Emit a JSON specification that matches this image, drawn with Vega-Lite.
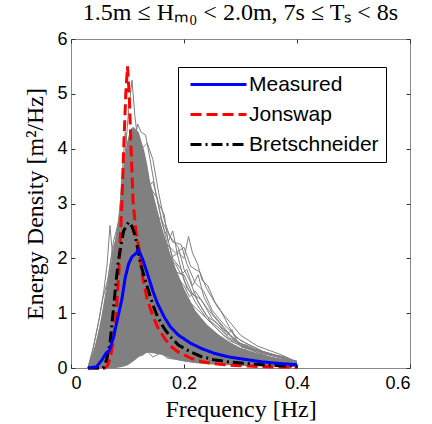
{
  "$schema": "https://vega.github.io/schema/vega-lite/v6.json",
  "width": 339,
  "height": 329,
  "autosize": {"type": "none"},
  "padding": {"left": 71, "top": 39, "right": 22, "bottom": 56},
  "background": "white",
  "title": {"text": "1.5m ≤ Hₘ₀ < 2.0m, 7s ≤ Tₛ < 8s", "font": "Liberation Serif", "fontSize": 24, "fontWeight": "normal", "color": "black", "anchor": "middle", "offset": 5},
  "config": {
    "view": {"stroke": "#888888", "strokeWidth": 1},
    "axis": {"domain": false, "grid": false, "tickColor": "#333333", "tickSize": -4, "labelFont": "Liberation Sans", "labelFontSize": 18, "labelColor": "black", "titleFont": "Liberation Serif", "titleFontSize": 24, "titleFontWeight": "normal", "titleColor": "black"}
  },
  "datasets": {
    "band": [
      {"f": 0.03, "lo": 0, "hi": 0},
      {"f": 0.04, "lo": 0, "hi": 0.3},
      {"f": 0.05, "lo": 0, "hi": 0.75},
      {"f": 0.06, "lo": 0, "hi": 1.25},
      {"f": 0.07, "lo": 0, "hi": 1.85},
      {"f": 0.08, "lo": 0, "hi": 2.45},
      {"f": 0.085, "lo": 0.01, "hi": 2.85},
      {"f": 0.09, "lo": 0.02, "hi": 3.35},
      {"f": 0.095, "lo": 0.03, "hi": 3.85},
      {"f": 0.1, "lo": 0.05, "hi": 4.15},
      {"f": 0.105, "lo": 0.08, "hi": 4.35},
      {"f": 0.11, "lo": 0.12, "hi": 4.4},
      {"f": 0.12, "lo": 0.2, "hi": 4.3},
      {"f": 0.13, "lo": 0.26, "hi": 3.95},
      {"f": 0.135, "lo": 0.28, "hi": 3.7},
      {"f": 0.14, "lo": 0.28, "hi": 3.4},
      {"f": 0.15, "lo": 0.26, "hi": 3.0},
      {"f": 0.16, "lo": 0.24, "hi": 2.6},
      {"f": 0.17, "lo": 0.2, "hi": 2.25},
      {"f": 0.18, "lo": 0.17, "hi": 1.95},
      {"f": 0.19, "lo": 0.14, "hi": 1.7},
      {"f": 0.2, "lo": 0.12, "hi": 1.45},
      {"f": 0.22, "lo": 0.09, "hi": 1.05},
      {"f": 0.24, "lo": 0.07, "hi": 0.8},
      {"f": 0.26, "lo": 0.06, "hi": 0.62},
      {"f": 0.28, "lo": 0.05, "hi": 0.48},
      {"f": 0.3, "lo": 0.04, "hi": 0.37},
      {"f": 0.33, "lo": 0.03, "hi": 0.27},
      {"f": 0.36, "lo": 0.03, "hi": 0.19},
      {"f": 0.4, "lo": 0.02, "hi": 0.1}
    ],
    "spectra": [
      {"id": 1, "f": 0.03, "E": 0}, {"id": 1, "f": 0.05, "E": 0.3}, {"id": 1, "f": 0.07, "E": 1.2}, {"id": 1, "f": 0.085, "E": 2.5}, {"id": 1, "f": 0.095, "E": 3.8}, {"id": 1, "f": 0.102, "E": 4.7}, {"id": 1, "f": 0.108, "E": 5.25}, {"id": 1, "f": 0.113, "E": 4.6}, {"id": 1, "f": 0.12, "E": 4.0}, {"id": 1, "f": 0.13, "E": 3.3}, {"id": 1, "f": 0.14, "E": 2.6}, {"id": 1, "f": 0.16, "E": 1.7}, {"id": 1, "f": 0.18, "E": 1.1}, {"id": 1, "f": 0.2, "E": 0.7}, {"id": 1, "f": 0.25, "E": 0.35}, {"id": 1, "f": 0.3, "E": 0.2}, {"id": 1, "f": 0.35, "E": 0.12}, {"id": 1, "f": 0.4, "E": 0.07},
      {"id": 2, "f": 0.03, "E": 0}, {"id": 2, "f": 0.06, "E": 0.4}, {"id": 2, "f": 0.08, "E": 1.5}, {"id": 2, "f": 0.095, "E": 2.8}, {"id": 2, "f": 0.105, "E": 3.7}, {"id": 2, "f": 0.112, "E": 4.1}, {"id": 2, "f": 0.118, "E": 4.45}, {"id": 2, "f": 0.124, "E": 4.3}, {"id": 2, "f": 0.132, "E": 4.25}, {"id": 2, "f": 0.14, "E": 3.8}, {"id": 2, "f": 0.15, "E": 3.2}, {"id": 2, "f": 0.165, "E": 2.5}, {"id": 2, "f": 0.18, "E": 1.8}, {"id": 2, "f": 0.2, "E": 1.2}, {"id": 2, "f": 0.23, "E": 0.7}, {"id": 2, "f": 0.27, "E": 0.4}, {"id": 2, "f": 0.32, "E": 0.22}, {"id": 2, "f": 0.4, "E": 0.1},
      {"id": 3, "f": 0.03, "E": 0}, {"id": 3, "f": 0.06, "E": 0.3}, {"id": 3, "f": 0.08, "E": 1.2}, {"id": 3, "f": 0.1, "E": 2.5}, {"id": 3, "f": 0.115, "E": 3.6}, {"id": 3, "f": 0.125, "E": 4.0}, {"id": 3, "f": 0.135, "E": 4.1}, {"id": 3, "f": 0.145, "E": 3.8}, {"id": 3, "f": 0.155, "E": 3.2}, {"id": 3, "f": 0.165, "E": 2.7}, {"id": 3, "f": 0.175, "E": 2.4}, {"id": 3, "f": 0.19, "E": 2.2}, {"id": 3, "f": 0.2, "E": 1.8}, {"id": 3, "f": 0.21, "E": 1.6}, {"id": 3, "f": 0.225, "E": 1.2}, {"id": 3, "f": 0.25, "E": 0.8}, {"id": 3, "f": 0.28, "E": 0.5}, {"id": 3, "f": 0.33, "E": 0.28}, {"id": 3, "f": 0.4, "E": 0.12},
      {"id": 4, "f": 0.03, "E": 0}, {"id": 4, "f": 0.06, "E": 0.3}, {"id": 4, "f": 0.08, "E": 1.0}, {"id": 4, "f": 0.1, "E": 1.8}, {"id": 4, "f": 0.12, "E": 2.3}, {"id": 4, "f": 0.14, "E": 2.5}, {"id": 4, "f": 0.16, "E": 2.3}, {"id": 4, "f": 0.175, "E": 2.0}, {"id": 4, "f": 0.19, "E": 2.1}, {"id": 4, "f": 0.2, "E": 2.0}, {"id": 4, "f": 0.208, "E": 2.4}, {"id": 4, "f": 0.215, "E": 2.1}, {"id": 4, "f": 0.224, "E": 1.9}, {"id": 4, "f": 0.232, "E": 1.6}, {"id": 4, "f": 0.242, "E": 1.5}, {"id": 4, "f": 0.255, "E": 1.2}, {"id": 4, "f": 0.265, "E": 1.05}, {"id": 4, "f": 0.28, "E": 0.75}, {"id": 4, "f": 0.29, "E": 0.57}, {"id": 4, "f": 0.31, "E": 0.45}, {"id": 4, "f": 0.34, "E": 0.3}, {"id": 4, "f": 0.38, "E": 0.18}, {"id": 4, "f": 0.4, "E": 0.08},
      {"id": 5, "f": 0.03, "E": 0}, {"id": 5, "f": 0.06, "E": 0.2}, {"id": 5, "f": 0.09, "E": 1.0}, {"id": 5, "f": 0.11, "E": 1.9}, {"id": 5, "f": 0.13, "E": 2.4}, {"id": 5, "f": 0.15, "E": 2.3}, {"id": 5, "f": 0.17, "E": 2.0}, {"id": 5, "f": 0.185, "E": 1.9}, {"id": 5, "f": 0.195, "E": 1.7}, {"id": 5, "f": 0.205, "E": 1.8}, {"id": 5, "f": 0.215, "E": 1.5}, {"id": 5, "f": 0.225, "E": 1.7}, {"id": 5, "f": 0.235, "E": 1.3}, {"id": 5, "f": 0.25, "E": 1.0}, {"id": 5, "f": 0.27, "E": 0.75}, {"id": 5, "f": 0.29, "E": 0.5}, {"id": 5, "f": 0.32, "E": 0.35}, {"id": 5, "f": 0.36, "E": 0.22}, {"id": 5, "f": 0.4, "E": 0.1},
      {"id": 6, "f": 0.03, "E": 0}, {"id": 6, "f": 0.04, "E": 0.4}, {"id": 6, "f": 0.05, "E": 0.9}, {"id": 6, "f": 0.058, "E": 1.4}, {"id": 6, "f": 0.064, "E": 1.9}, {"id": 6, "f": 0.069, "E": 2.6}, {"id": 6, "f": 0.074, "E": 2.0}, {"id": 6, "f": 0.08, "E": 2.4}, {"id": 6, "f": 0.09, "E": 2.8}, {"id": 6, "f": 0.1, "E": 2.7}, {"id": 6, "f": 0.11, "E": 2.4}, {"id": 6, "f": 0.125, "E": 2.0}, {"id": 6, "f": 0.14, "E": 1.5}, {"id": 6, "f": 0.16, "E": 1.0}, {"id": 6, "f": 0.19, "E": 0.6}, {"id": 6, "f": 0.23, "E": 0.35}, {"id": 6, "f": 0.3, "E": 0.15}, {"id": 6, "f": 0.4, "E": 0.06},
      {"id": 7, "f": 0.03, "E": 0}, {"id": 7, "f": 0.038, "E": 0.3}, {"id": 7, "f": 0.048, "E": 0.8}, {"id": 7, "f": 0.057, "E": 1.3}, {"id": 7, "f": 0.065, "E": 1.6}, {"id": 7, "f": 0.075, "E": 2.3}, {"id": 7, "f": 0.085, "E": 2.7}, {"id": 7, "f": 0.091, "E": 3.6}, {"id": 7, "f": 0.096, "E": 4.3}, {"id": 7, "f": 0.1, "E": 4.0}, {"id": 7, "f": 0.107, "E": 3.5}, {"id": 7, "f": 0.115, "E": 2.8}, {"id": 7, "f": 0.13, "E": 2.0}, {"id": 7, "f": 0.15, "E": 1.3}, {"id": 7, "f": 0.18, "E": 0.7}, {"id": 7, "f": 0.22, "E": 0.4}, {"id": 7, "f": 0.3, "E": 0.15}, {"id": 7, "f": 0.4, "E": 0.05},
      {"id": 8, "f": 0.03, "E": 0}, {"id": 8, "f": 0.06, "E": 0.05}, {"id": 8, "f": 0.08, "E": 0.15}, {"id": 8, "f": 0.1, "E": 0.25}, {"id": 8, "f": 0.115, "E": 0.3}, {"id": 8, "f": 0.125, "E": 0.22}, {"id": 8, "f": 0.135, "E": 0.3}, {"id": 8, "f": 0.145, "E": 0.2}, {"id": 8, "f": 0.16, "E": 0.28}, {"id": 8, "f": 0.17, "E": 0.18}, {"id": 8, "f": 0.19, "E": 0.15}, {"id": 8, "f": 0.22, "E": 0.1}, {"id": 8, "f": 0.26, "E": 0.08}, {"id": 8, "f": 0.3, "E": 0.05}, {"id": 8, "f": 0.4, "E": 0.03},
      {"id": 9, "f": 0.03, "E": 0}, {"id": 9, "f": 0.07, "E": 0.08}, {"id": 9, "f": 0.09, "E": 0.2}, {"id": 9, "f": 0.11, "E": 0.3}, {"id": 9, "f": 0.12, "E": 0.4}, {"id": 9, "f": 0.13, "E": 0.35}, {"id": 9, "f": 0.14, "E": 0.42}, {"id": 9, "f": 0.155, "E": 0.3}, {"id": 9, "f": 0.165, "E": 0.36}, {"id": 9, "f": 0.18, "E": 0.25}, {"id": 9, "f": 0.2, "E": 0.2}, {"id": 9, "f": 0.23, "E": 0.15}, {"id": 9, "f": 0.26, "E": 0.12}, {"id": 9, "f": 0.3, "E": 0.08}, {"id": 9, "f": 0.35, "E": 0.05}, {"id": 9, "f": 0.4, "E": 0.04},
      {"id": 10, "f": 0.03, "E": 0}, {"id": 10, "f": 0.07, "E": 0.4}, {"id": 10, "f": 0.1, "E": 1.2}, {"id": 10, "f": 0.13, "E": 1.8}, {"id": 10, "f": 0.16, "E": 1.6}, {"id": 10, "f": 0.19, "E": 1.4}, {"id": 10, "f": 0.22, "E": 1.1}, {"id": 10, "f": 0.24, "E": 0.9}, {"id": 10, "f": 0.26, "E": 0.75}, {"id": 10, "f": 0.275, "E": 0.6}, {"id": 10, "f": 0.285, "E": 0.7}, {"id": 10, "f": 0.295, "E": 0.45}, {"id": 10, "f": 0.31, "E": 0.42}, {"id": 10, "f": 0.325, "E": 0.35}, {"id": 10, "f": 0.34, "E": 0.3}, {"id": 10, "f": 0.36, "E": 0.24}, {"id": 10, "f": 0.38, "E": 0.2}, {"id": 10, "f": 0.39, "E": 0.15}, {"id": 10, "f": 0.4, "E": 0.07},
      {"id": 11, "f": 0.03, "E": 0}, {"id": 11, "f": 0.07, "E": 0.5}, {"id": 11, "f": 0.09, "E": 1.5}, {"id": 11, "f": 0.11, "E": 2.6}, {"id": 11, "f": 0.13, "E": 3.2}, {"id": 11, "f": 0.145, "E": 3.4}, {"id": 11, "f": 0.155, "E": 3.0}, {"id": 11, "f": 0.165, "E": 2.8}, {"id": 11, "f": 0.172, "E": 2.3}, {"id": 11, "f": 0.18, "E": 2.5}, {"id": 11, "f": 0.19, "E": 2.0}, {"id": 11, "f": 0.2, "E": 1.6}, {"id": 11, "f": 0.22, "E": 1.2}, {"id": 11, "f": 0.24, "E": 0.9}, {"id": 11, "f": 0.27, "E": 0.6}, {"id": 11, "f": 0.3, "E": 0.4}, {"id": 11, "f": 0.35, "E": 0.2}, {"id": 11, "f": 0.4, "E": 0.1},
      {"id": 12, "f": 0.03, "E": 0}, {"id": 12, "f": 0.07, "E": 0.2}, {"id": 12, "f": 0.09, "E": 0.7}, {"id": 12, "f": 0.11, "E": 1.4}, {"id": 12, "f": 0.13, "E": 1.9}, {"id": 12, "f": 0.15, "E": 2.1}, {"id": 12, "f": 0.17, "E": 2.0}, {"id": 12, "f": 0.185, "E": 1.7}, {"id": 12, "f": 0.2, "E": 1.5}, {"id": 12, "f": 0.21, "E": 1.3}, {"id": 12, "f": 0.22, "E": 1.4}, {"id": 12, "f": 0.24, "E": 1.1}, {"id": 12, "f": 0.26, "E": 0.85}, {"id": 12, "f": 0.28, "E": 0.6}, {"id": 12, "f": 0.3, "E": 0.42}, {"id": 12, "f": 0.33, "E": 0.3}, {"id": 12, "f": 0.37, "E": 0.2}, {"id": 12, "f": 0.4, "E": 0.09},
      {"id": 13, "f": 0.03, "E": 0}, {"id": 13, "f": 0.06, "E": 0.5}, {"id": 13, "f": 0.08, "E": 1.6}, {"id": 13, "f": 0.1, "E": 2.9}, {"id": 13, "f": 0.115, "E": 3.4}, {"id": 13, "f": 0.13, "E": 3.0}, {"id": 13, "f": 0.145, "E": 2.9}, {"id": 13, "f": 0.16, "E": 2.4}, {"id": 13, "f": 0.175, "E": 2.2}, {"id": 13, "f": 0.185, "E": 1.75}, {"id": 13, "f": 0.2, "E": 1.7}, {"id": 13, "f": 0.215, "E": 1.35}, {"id": 13, "f": 0.23, "E": 1.25}, {"id": 13, "f": 0.25, "E": 0.9}, {"id": 13, "f": 0.27, "E": 0.7}, {"id": 13, "f": 0.3, "E": 0.45}, {"id": 13, "f": 0.34, "E": 0.28}, {"id": 13, "f": 0.4, "E": 0.12},
      {"id": 14, "f": 0.03, "E": 0}, {"id": 14, "f": 0.07, "E": 0.6}, {"id": 14, "f": 0.09, "E": 1.7}, {"id": 14, "f": 0.11, "E": 2.9}, {"id": 14, "f": 0.125, "E": 3.6}, {"id": 14, "f": 0.14, "E": 3.3}, {"id": 14, "f": 0.152, "E": 3.1}, {"id": 14, "f": 0.162, "E": 2.6}, {"id": 14, "f": 0.17, "E": 2.4}, {"id": 14, "f": 0.18, "E": 2.0}, {"id": 14, "f": 0.195, "E": 1.8}, {"id": 14, "f": 0.205, "E": 1.45}, {"id": 14, "f": 0.22, "E": 1.3}, {"id": 14, "f": 0.24, "E": 0.95}, {"id": 14, "f": 0.26, "E": 0.8}, {"id": 14, "f": 0.28, "E": 0.55}, {"id": 14, "f": 0.31, "E": 0.38}, {"id": 14, "f": 0.35, "E": 0.25}, {"id": 14, "f": 0.4, "E": 0.1},
      {"id": 15, "f": 0.03, "E": 0}, {"id": 15, "f": 0.08, "E": 0.8}, {"id": 15, "f": 0.1, "E": 1.6}, {"id": 15, "f": 0.12, "E": 2.0}, {"id": 15, "f": 0.14, "E": 1.7}, {"id": 15, "f": 0.16, "E": 1.3}, {"id": 15, "f": 0.19, "E": 0.9}, {"id": 15, "f": 0.22, "E": 0.6}, {"id": 15, "f": 0.25, "E": 0.45}, {"id": 15, "f": 0.27, "E": 0.35}, {"id": 15, "f": 0.285, "E": 0.42}, {"id": 15, "f": 0.295, "E": 0.33}, {"id": 15, "f": 0.305, "E": 0.38}, {"id": 15, "f": 0.32, "E": 0.25}, {"id": 15, "f": 0.35, "E": 0.17}, {"id": 15, "f": 0.38, "E": 0.14}, {"id": 15, "f": 0.4, "E": 0.08},
      {"id": 16, "f": 0.03, "E": 0}, {"id": 16, "f": 0.06, "E": 0.3}, {"id": 16, "f": 0.09, "E": 1.3}, {"id": 16, "f": 0.12, "E": 2.6}, {"id": 16, "f": 0.14, "E": 2.9}, {"id": 16, "f": 0.16, "E": 2.7}, {"id": 16, "f": 0.18, "E": 2.3}, {"id": 16, "f": 0.195, "E": 2.25}, {"id": 16, "f": 0.205, "E": 1.9}, {"id": 16, "f": 0.22, "E": 1.55}, {"id": 16, "f": 0.235, "E": 1.4}, {"id": 16, "f": 0.25, "E": 1.05}, {"id": 16, "f": 0.27, "E": 0.8}, {"id": 16, "f": 0.3, "E": 0.5}, {"id": 16, "f": 0.34, "E": 0.3}, {"id": 16, "f": 0.4, "E": 0.12},
      {"id": 17, "f": 0.03, "E": 0}, {"id": 17, "f": 0.07, "E": 0.4}, {"id": 17, "f": 0.1, "E": 1.5}, {"id": 17, "f": 0.125, "E": 2.4}, {"id": 17, "f": 0.145, "E": 2.6}, {"id": 17, "f": 0.165, "E": 2.3}, {"id": 17, "f": 0.185, "E": 2.1}, {"id": 17, "f": 0.2, "E": 2.2}, {"id": 17, "f": 0.212, "E": 1.85}, {"id": 17, "f": 0.228, "E": 1.75}, {"id": 17, "f": 0.24, "E": 1.45}, {"id": 17, "f": 0.26, "E": 1.1}, {"id": 17, "f": 0.28, "E": 0.85}, {"id": 17, "f": 0.3, "E": 0.6}, {"id": 17, "f": 0.33, "E": 0.4}, {"id": 17, "f": 0.37, "E": 0.25}, {"id": 17, "f": 0.4, "E": 0.11},
      {"id": 18, "f": 0.03, "E": 0}, {"id": 18, "f": 0.05, "E": 0.6}, {"id": 18, "f": 0.065, "E": 1.6}, {"id": 18, "f": 0.075, "E": 2.2}, {"id": 18, "f": 0.085, "E": 2.5}, {"id": 18, "f": 0.095, "E": 3.0}, {"id": 18, "f": 0.105, "E": 3.6}, {"id": 18, "f": 0.115, "E": 3.9}, {"id": 18, "f": 0.125, "E": 3.6}, {"id": 18, "f": 0.135, "E": 3.2}, {"id": 18, "f": 0.15, "E": 2.5}, {"id": 18, "f": 0.17, "E": 1.8}, {"id": 18, "f": 0.2, "E": 1.1}, {"id": 18, "f": 0.24, "E": 0.6}, {"id": 18, "f": 0.3, "E": 0.3}, {"id": 18, "f": 0.4, "E": 0.1}
    ],
    "models": [
      {"series": "Jonswap", "f": 0.03, "E": 0}, {"series": "Jonswap", "f": 0.06, "E": 0}, {"series": "Jonswap", "f": 0.065, "E": 0.05}, {"series": "Jonswap", "f": 0.07, "E": 0.2}, {"series": "Jonswap", "f": 0.075, "E": 0.5}, {"series": "Jonswap", "f": 0.08, "E": 1.0}, {"series": "Jonswap", "f": 0.085, "E": 1.8}, {"series": "Jonswap", "f": 0.09, "E": 3.0}, {"series": "Jonswap", "f": 0.094, "E": 4.2}, {"series": "Jonswap", "f": 0.097, "E": 5.0}, {"series": "Jonswap", "f": 0.1, "E": 5.5}, {"series": "Jonswap", "f": 0.103, "E": 5.0}, {"series": "Jonswap", "f": 0.106, "E": 4.1}, {"series": "Jonswap", "f": 0.11, "E": 3.0}, {"series": "Jonswap", "f": 0.115, "E": 2.5}, {"series": "Jonswap", "f": 0.12, "E": 2.2}, {"series": "Jonswap", "f": 0.126, "E": 1.7}, {"series": "Jonswap", "f": 0.135, "E": 1.24}, {"series": "Jonswap", "f": 0.145, "E": 0.95}, {"series": "Jonswap", "f": 0.153, "E": 0.75}, {"series": "Jonswap", "f": 0.165, "E": 0.55}, {"series": "Jonswap", "f": 0.176, "E": 0.4}, {"series": "Jonswap", "f": 0.19, "E": 0.29}, {"series": "Jonswap", "f": 0.212, "E": 0.18}, {"series": "Jonswap", "f": 0.23, "E": 0.12}, {"series": "Jonswap", "f": 0.253, "E": 0.08}, {"series": "Jonswap", "f": 0.28, "E": 0.05}, {"series": "Jonswap", "f": 0.32, "E": 0.03}, {"series": "Jonswap", "f": 0.36, "E": 0.02}, {"series": "Jonswap", "f": 0.4, "E": 0.01},
      {"series": "Bretschneider", "f": 0.03, "E": 0}, {"series": "Bretschneider", "f": 0.057, "E": 0}, {"series": "Bretschneider", "f": 0.063, "E": 0.15}, {"series": "Bretschneider", "f": 0.069, "E": 0.45}, {"series": "Bretschneider", "f": 0.075, "E": 1.06}, {"series": "Bretschneider", "f": 0.08, "E": 1.6}, {"series": "Bretschneider", "f": 0.084, "E": 1.97}, {"series": "Bretschneider", "f": 0.093, "E": 2.5}, {"series": "Bretschneider", "f": 0.102, "E": 2.66}, {"series": "Bretschneider", "f": 0.108, "E": 2.58}, {"series": "Bretschneider", "f": 0.114, "E": 2.4}, {"series": "Bretschneider", "f": 0.123, "E": 1.9}, {"series": "Bretschneider", "f": 0.135, "E": 1.48}, {"series": "Bretschneider", "f": 0.145, "E": 1.15}, {"series": "Bretschneider", "f": 0.153, "E": 0.94}, {"series": "Bretschneider", "f": 0.165, "E": 0.72}, {"series": "Bretschneider", "f": 0.176, "E": 0.57}, {"series": "Bretschneider", "f": 0.19, "E": 0.42}, {"series": "Bretschneider", "f": 0.212, "E": 0.29}, {"series": "Bretschneider", "f": 0.23, "E": 0.21}, {"series": "Bretschneider", "f": 0.253, "E": 0.15}, {"series": "Bretschneider", "f": 0.28, "E": 0.11}, {"series": "Bretschneider", "f": 0.313, "E": 0.08}, {"series": "Bretschneider", "f": 0.35, "E": 0.05}, {"series": "Bretschneider", "f": 0.4, "E": 0.03},
      {"series": "Measured", "f": 0.03, "E": 0}, {"series": "Measured", "f": 0.045, "E": 0.02}, {"series": "Measured", "f": 0.055, "E": 0.15}, {"series": "Measured", "f": 0.062, "E": 0.27}, {"series": "Measured", "f": 0.068, "E": 0.32}, {"series": "Measured", "f": 0.075, "E": 0.55}, {"series": "Measured", "f": 0.082, "E": 0.88}, {"series": "Measured", "f": 0.09, "E": 1.25}, {"series": "Measured", "f": 0.096, "E": 1.65}, {"series": "Measured", "f": 0.102, "E": 1.9}, {"series": "Measured", "f": 0.108, "E": 2.03}, {"series": "Measured", "f": 0.114, "E": 2.08}, {"series": "Measured", "f": 0.12, "E": 2.15}, {"series": "Measured", "f": 0.127, "E": 1.98}, {"series": "Measured", "f": 0.135, "E": 1.73}, {"series": "Measured", "f": 0.145, "E": 1.4}, {"series": "Measured", "f": 0.153, "E": 1.18}, {"series": "Measured", "f": 0.165, "E": 0.93}, {"series": "Measured", "f": 0.176, "E": 0.75}, {"series": "Measured", "f": 0.19, "E": 0.6}, {"series": "Measured", "f": 0.212, "E": 0.45}, {"series": "Measured", "f": 0.23, "E": 0.36}, {"series": "Measured", "f": 0.253, "E": 0.27}, {"series": "Measured", "f": 0.28, "E": 0.2}, {"series": "Measured", "f": 0.313, "E": 0.15}, {"series": "Measured", "f": 0.34, "E": 0.11}, {"series": "Measured", "f": 0.372, "E": 0.08}, {"series": "Measured", "f": 0.4, "E": 0.06}
    ]
  },
  "resolve": {"axis": {"x": "independent", "y": "independent"}},
  "layer": [
    {
      "data": {"name": "band"},
      "mark": {"type": "area", "color": "#808080", "opacity": 1},
      "encoding": {
        "x": {"field": "f", "type": "quantitative", "scale": {"domain": [0, 0.6], "nice": false}, "axis": {"orient": "bottom", "values": [0, 0.2, 0.4, 0.6], "format": "~g", "title": "Frequency [Hz]", "labelPadding": 10, "titlePadding": 5}},
        "y": {"field": "lo", "type": "quantitative", "scale": {"domain": [0, 6], "nice": false}, "axis": {"orient": "left", "values": [0, 1, 2, 3, 4, 5, 6], "title": "Energy Density [m²/Hz]", "labelPadding": 8, "titlePadding": 9}},
        "y2": {"field": "hi"}
      }
    },
    {
      "data": {"name": "spectra"},
      "mark": {"type": "line", "color": "#808080", "strokeWidth": 1},
      "encoding": {
        "x": {"field": "f", "type": "quantitative", "axis": null},
        "y": {"field": "E", "type": "quantitative", "axis": null},
        "detail": {"field": "id"}
      }
    },
    {
      "data": {"name": "models"},
      "mark": {"type": "line", "strokeWidth": 3},
      "encoding": {
        "x": {"field": "f", "type": "quantitative", "axis": {"orient": "top", "values": [0, 0.2, 0.4, 0.6], "labels": false, "title": null}},
        "y": {"field": "E", "type": "quantitative", "axis": {"orient": "right", "values": [0, 1, 2, 3, 4, 5, 6], "labels": false, "title": null}},
        "color": {"field": "series", "type": "nominal", "scale": {"domain": ["Measured", "Jonswap", "Bretschneider"], "range": ["#0000ff", "#ff0000", "#000000"]}, "legend": {"title": null, "orient": "none", "legendX": 107, "legendY": 28, "symbolType": "stroke", "symbolSize": 3136, "symbolStrokeWidth": 3, "symbolOffset": 4, "clipHeight": 21, "labelFont": "Liberation Sans", "labelFontSize": 21, "labelColor": "black", "strokeColor": "black", "fillColor": "white", "padding": 7, "rowPadding": 8, "labelOffset": 1}},
        "strokeDash": {"field": "series", "type": "nominal", "scale": {"domain": ["Measured", "Jonswap", "Bretschneider"], "range": [[1, 0], [11, 5], [11, 4, 2, 4]]}, "legend": {"title": null, "orient": "none", "legendX": 107, "legendY": 28, "symbolType": "stroke", "symbolSize": 3136, "symbolStrokeWidth": 3, "symbolOffset": 4, "clipHeight": 21, "labelFont": "Liberation Sans", "labelFontSize": 21, "labelColor": "black", "strokeColor": "black", "fillColor": "white", "padding": 7, "rowPadding": 8, "labelOffset": 1}},
        "order": {"field": "f", "type": "quantitative"}
      }
    }
  ]
}
